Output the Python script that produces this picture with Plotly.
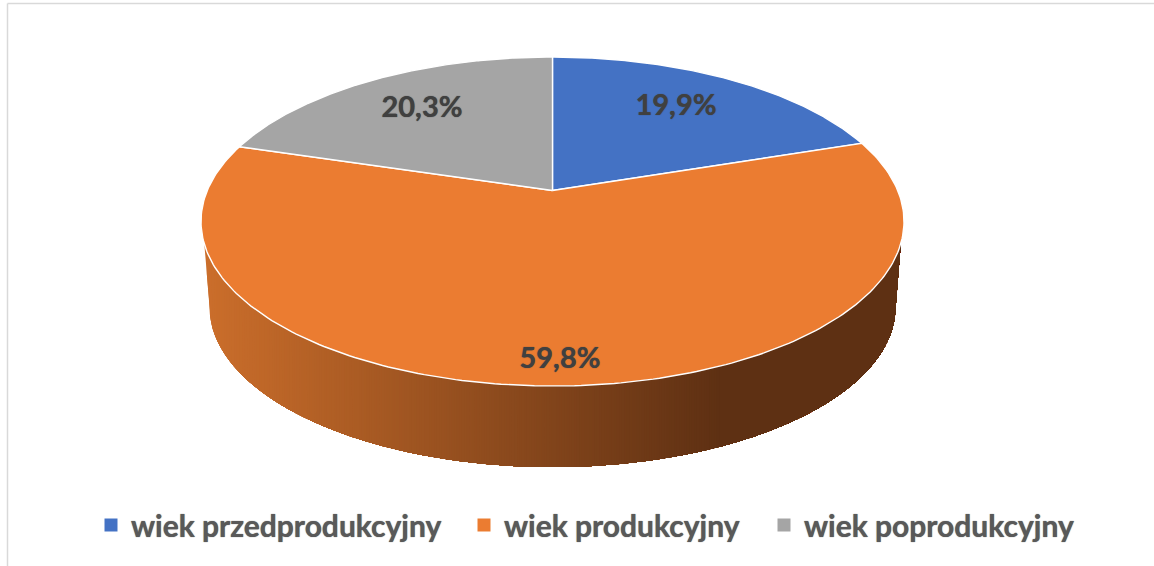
import numpy as np
import plotly.graph_objects as go

# --- data ---
categories = ["wiek przedprodukcyjny", "wiek produkcyjny", "wiek poprodukcyjny"]
shares = [19.9, 59.8, 20.3]
colors = ["#4472C4", "#EB7C31", "#A5A5A5"]

W, H = 1154, 566
CX, CY, RX, RY = 552.5, 221.5, 351.5, 164.5   # plot position of the unit disc


def ux(px):
    return (px - CX) / RX


def uy(py):
    return (CY - py) / RY


TILT = uy(190.5)               # apparent centre of the tilted disc
WALL_TOP = uy(244)             # height at which the side wall starts
WALL_RX, WALL_RY, WALL_CY = 343 / RX, 160 / RY, uy(307)
DARK_AT = ux(720)
LIGHT, DARK = np.array([203, 110, 43]), np.array([94, 48, 19])


def project(theta):
    """Clockwise angle from 12 o'clock -> rim point seen in perspective."""
    u, v = np.sin(theta), np.cos(theta)
    den = 1 + TILT * v
    return u * np.sqrt(1 - TILT**2) / den, (v + TILT) / den


XEDGE = np.sqrt(1 - WALL_TOP**2)


def wall_color(x):
    t = min(max((x + XEDGE) / (DARK_AT + XEDGE), 0), 1)
    r, g, b = LIGHT + (DARK - LIGHT) * t
    return f"rgb({r:.0f},{g:.0f},{b:.0f})"


def rim_y(x):
    return np.minimum(-np.sqrt(np.maximum(1 - x * x, 0)), WALL_TOP)


def wall_bottom(x):
    """Lower edge of the side wall: short straight sides, then the lower ellipse."""
    if abs(x) >= WALL_RX:
        t = (XEDGE - abs(x)) / (XEDGE - WALL_RX)
        return WALL_TOP + (WALL_CY - WALL_TOP) * t
    return WALL_CY - WALL_RY * np.sqrt(1 - (x / WALL_RX) ** 2)


fig = go.Figure()

# side wall: each shape runs from its left edge to the far right and is painted over
# the previous one, which gives a left-to-right shade without seams between strips
phi = np.linspace(0, np.pi, 200)
arc_x = -WALL_RX * np.cos(phi)
arc_y = WALL_CY - WALL_RY * np.sin(phi)
rim_th = np.linspace(-np.pi / 2, np.pi / 2, 400)
rim_x = np.sin(rim_th)
rim_x = rim_x[np.abs(rim_x) <= XEDGE]
for left in np.arange(-XEDGE, DARK_AT, 2.5 / RX):
    top_mask = rim_x > left
    bot_mask = arc_x > left
    xs = [left, left, *arc_x[bot_mask], XEDGE, *rim_x[top_mask][::-1], left]
    ys = [float(rim_y(left)), wall_bottom(left), *arc_y[bot_mask], WALL_TOP,
          *rim_y(rim_x[top_mask][::-1]), float(rim_y(left))]
    c = wall_color(left + 1.25 / RX)
    fig.add_trace(go.Scatter(x=xs, y=ys, mode="lines", fill="toself", fillcolor=c,
                             line=dict(width=0, color=c), showlegend=False, hoverinfo="skip"))

# top face
edges = np.cumsum([0] + shares) / sum(shares) * 2 * np.pi
for name, c, a, b in zip(categories, colors, edges[:-1], edges[1:]):
    th = np.linspace(a, b, 240)
    u, v = project(th)
    fig.add_trace(go.Scatter(x=[0, *u, 0], y=[TILT, *v, TILT], mode="lines", fill="toself",
                             fillcolor=c, line=dict(color="white", width=1.4),
                             name=name, showlegend=False, hoverinfo="name"))

# data labels
label_x = [ux(676), ux(560), ux(422)]
label_y = [uy(108), uy(361), uy(110)]
fig.add_trace(go.Scatter(x=label_x, y=label_y, mode="text",
                         text=[f"{s:.1f}%".replace(".", ",") for s in shares],
                         textposition="middle center",
                         textfont=dict(family="Lato", size=29, color="#404040", weight="bold",
                                       shadow="0 0 1px #404040"),
                         showlegend=False, hoverinfo="skip"))

# legend entries: one legend per entry, so each can sit where the reference has it
legend_ids = ["legend", "legend2", "legend3"]
legend_x = [91, 464, 764]
for name, c, lid in zip(categories, colors, legend_ids):
    fig.add_trace(go.Scatter(x=[None], y=[None], mode="markers", name=name, legend=lid,
                             marker=dict(symbol="square", size=13, color=c)))

legends = {
    lid: dict(orientation="h", x=lx / W, y=1 - 525 / H, xanchor="left", yanchor="middle",
              font=dict(family="Lato", size=30, color="#595959", weight="bold",
                        shadow="0 0 1px #595959"),
              bgcolor="rgba(0,0,0,0)", itemclick=False, itemdoubleclick=False)
    for lid, lx in zip(legend_ids, legend_x)
}

fig.update_layout(
    width=W, height=H, margin=dict(l=0, r=0, t=0, b=0),
    paper_bgcolor="white", plot_bgcolor="white",
    xaxis=dict(range=[ux(0), ux(W)], visible=False, fixedrange=True),
    yaxis=dict(range=[uy(H), uy(0)], visible=False, fixedrange=True),
    shapes=[
        dict(type="line", xref="paper", yref="paper", x0=7.5 / W, x1=7.5 / W, y0=0, y1=1 - 3.5 / H,
             line=dict(color="#D9D9D9", width=1.5)),
        dict(type="line", xref="paper", yref="paper", x0=7.5 / W, x1=1, y0=1 - 3.5 / H, y1=1 - 3.5 / H,
             line=dict(color="#D9D9D9", width=1.5)),
    ],
    **legends,
)
fig.write_html("out.html", config=dict(displayModeBar=False),
               post_script="document.body.style.margin='0';document.documentElement.style.overflow='hidden';")
